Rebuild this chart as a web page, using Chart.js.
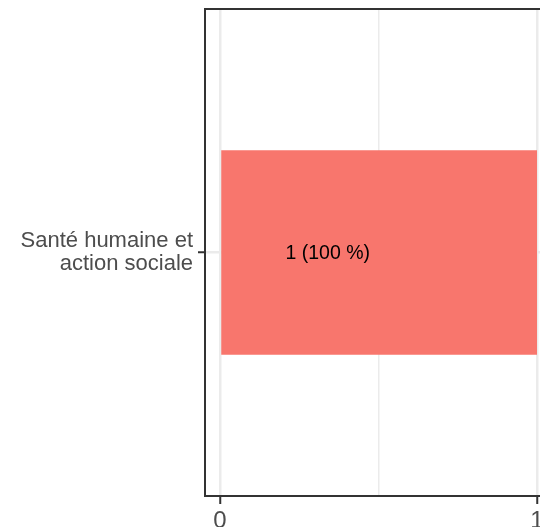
<!DOCTYPE html>
<html>
<head>
<meta charset="utf-8">
<script src="https://cdn.jsdelivr.net/npm/chart.js@4/dist/chart.umd.min.js"></script>
<style>
    html, body { margin: 0; padding: 0; background: #fff; overflow: hidden; }
    #wrap { width: 556px; height: 527px; }
</style>
</head>
<body>
<div id="wrap"><canvas id="bar-chart" width="556" height="527"></canvas></div>
<script>
// Chart data
const categories = [['Santé humaine et', 'action sociale']];
const counts = [1];
const barLabels = ['1 (100 %)'];
const xTicks = [0, 0.5, 1];
const xTickLabels = ['0', '', '1'];

const FONT = '"Liberation Sans", Arial, Helvetica, sans-serif';

// ggplot-like panel border drawn over the bars
const panelBorder = {
    id: 'panelBorder',
    afterDatasetsDraw(chart) {
        const a = chart.chartArea;
        const ctx = chart.ctx;
        ctx.save();
        ctx.strokeStyle = '#333333';
        ctx.lineWidth = 2;
        ctx.strokeRect(a.left, a.top, a.right - a.left, a.bottom - a.top);
        ctx.restore();
    }
};

// text label inside the bar
const barText = {
    id: 'barText',
    afterDatasetsDraw(chart) {
        const ctx = chart.ctx;
        const meta = chart.getDatasetMeta(0);
        const x = chart.scales.x;
        ctx.save();
        ctx.fillStyle = '#000000';
        ctx.font = '19.5px ' + FONT;
        ctx.textAlign = 'center';
        ctx.textBaseline = 'middle';
        meta.data.forEach((bar, i) => {
            ctx.fillText(barLabels[i], x.getPixelForValue(counts[i] * 0.34), bar.y + 1);
        });
        ctx.restore();
    }
};

document.addEventListener('DOMContentLoaded', function () {
    const ctx = document.getElementById('bar-chart').getContext('2d');
    new Chart(ctx, {
        type: 'bar',
        data: {
            labels: categories,
            datasets: [{
                data: counts,
                backgroundColor: '#F8766D',
                borderWidth: 0,
                barPercentage: 0.42,
                categoryPercentage: 1
            }]
        },
        options: {
            indexAxis: 'y',
            responsive: false,
            animation: false,
            layout: { padding: { top: 9, right: 4, bottom: 0, left: 0 } },
            plugins: {
                legend: { display: false },
                tooltip: { enabled: false }
            },
            scales: {
                x: {
                    type: 'linear',
                    min: -0.0473,
                    max: 1.0473,
                    afterBuildTicks: scale => {
                        scale.ticks = xTicks.map(v => ({ value: v }));
                    },
                    afterFit: scale => { scale.height = 31; },
                    border: { display: false },
                    grid: {
                        color: '#ebebeb',
                        lineWidth: c => (c.tick && c.tick.value === 0.5 ? 1.5 : 2.5),
                        tickLength: 8,
                        tickWidth: 2,
                        tickColor: c => (c.tick && c.tick.value === 0.5 ? 'rgba(0,0,0,0)' : '#333333')
                    },
                    ticks: {
                        autoSkip: false,
                        maxRotation: 0,
                        padding: 3,
                        color: '#4d4d4d',
                        font: { family: FONT, size: 24 },
                        callback: (v, i) => xTickLabels[i]
                    }
                },
                y: {
                    type: 'category',
                    offset: true,
                    afterFit: scale => {
                        scale.width = 205;
                        scale.paddingTop = 0;
                        scale.paddingBottom = 0;
                    },
                    border: { display: false },
                    grid: {
                        color: '#ebebeb',
                        lineWidth: 2.5,
                        offset: false,
                        tickLength: 7,
                        tickWidth: 2,
                        tickColor: '#333333'
                    },
                    ticks: {
                        padding: 5,
                        color: '#4d4d4d',
                        font: { family: FONT, size: 22, lineHeight: 1.03 }
                    }
                }
            }
        },
        plugins: [panelBorder, barText]
    });
});
</script>
</body>
</html>
